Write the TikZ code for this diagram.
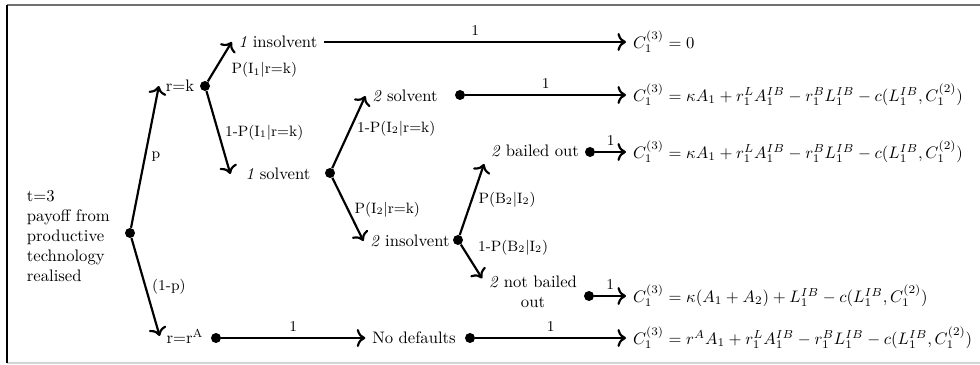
\documentclass[tikz,border=0pt]{standalone}
\usepackage{amsmath}
\usepackage{tikz}
\usetikzlibrary{
  arrows.meta,
  positioning
}
\definecolor{framegray}{RGB}{112,112,112}
\definecolor{lightframe}{RGB}{212,212,212}

\begin{document}
\begin{tikzpicture}[x=0.6pt, y=-0.6pt,
    state/.style={inner sep=4pt},
    dot/.style={circle, fill=black, inner sep=0pt, minimum size=6pt},
    branch/.style={line width=1.3pt, -{To[scale=1.15]}},
    prob/.style={font=\small}]
            \useasboundingbox (0,0) rectangle (980,365);

            % Frame edges
            \draw[line width=1.3pt, framegray] (7,5) -- (980,5);
            \draw[line width=1pt, lightframe] (7,363) -- (980,363);
            \draw[line width=1.2pt] (7,5) -- (7,363);

            % Root
            \node[align=left, anchor=west] (start) at (21,236) {t=3\\payoff from\\productive\\technology\\realised};
            \node[dot] (root) at (130,233) {};

            % Return states
            \node[state] (rk) at (180,86) {r=k};
            \node[dot] (rkdot) at (205,86) {};
            \node[state] (ra) at (185,336) {r=r\textsuperscript{A}};
            \node[dot] (radot) at (216,338) {};

            % Bank 1
            \node[state] (ins1) at (278,42) {\textit{1} insolvent};
            \node[state, inner xsep=9pt] (sol1) at (278,174) {\textit{1} solvent};
            \node[dot] (sol1dot) at (330,173) {};
            \node[state] (nodef) at (414,338) {No defaults};
            \node[dot] (nodefdot) at (470,338) {};

            % Bank 2
            \node[state] (sol2) at (405,96) {\textit{2} solvent};
            \node[dot] (sol2dot) at (460,95) {};
            \node[state] (ins2) at (410,241) {\textit{2} insolvent};
            \node[dot] (ins2dot) at (458,240) {};
            \node[state] (bail) at (535,151) {\textit{2} bailed out};
            \node[dot] (baildot) at (590,152) {};
            \node[state, align=center] (nbail) at (533,292) {\textit{2} not bailed\\out};
            \node[dot] (nbaildot) at (589,296) {};

            % Payoffs
            \node[state, anchor=west] (pay0) at (626,42) {$C_1^{(3)}=0$};
            \node[state, anchor=west] (pay1) at (626,95) {$C_1^{(3)}=\kappa A_1+r_1^L A_1^{IB}-r_1^B L_1^{IB}-c(L_1^{IB},C_1^{(2)})$};
            \node[state, anchor=west] (pay2) at (626,152) {$C_1^{(3)}=\kappa A_1+r_1^L A_1^{IB}-r_1^B L_1^{IB}-c(L_1^{IB},C_1^{(2)})$};
            \node[state, anchor=west] (pay3) at (626,296) {$C_1^{(3)}=\kappa(A_1+A_2)+L_1^{IB}-c(L_1^{IB},C_1^{(2)})$};
            \node[state, anchor=west] (pay4) at (626,338) {$C_1^{(3)}=r^A A_1+r_1^L A_1^{IB}-r_1^B L_1^{IB}-c(L_1^{IB},C_1^{(2)})$};

            % Arrows
            \draw[branch] (root) -- node[prob, right] {p} (rk.west);
            \draw[branch] (root) -- node[prob, right] {(1-p)} (ra.west);
            \draw[branch] (rkdot) -- node[prob, pos=0.3, right=6pt] {P(I\textsubscript{1}|r=k)} (ins1.west);
            \draw[branch] (rkdot) -- node[prob, right] {1-P(I\textsubscript{1}|r=k)} (sol1.west);
            \draw[branch] (sol1dot) -- node[prob, pos=0.55, right] {1-P(I\textsubscript{2}|r=k)} (sol2.west);
            \draw[branch] (sol1dot) -- node[prob, right] {P(I\textsubscript{2}|r=k)} (ins2.west);
            \draw[branch] (ins2dot) -- node[prob, right] {P(B\textsubscript{2}|I\textsubscript{2})} (bail.south west);
            \draw[branch] (ins2dot) -- node[prob, above right] {1-P(B\textsubscript{2}|I\textsubscript{2})} (nbail.165);
            \draw[branch] (radot) -- node[prob, above] {1} (nodef.west);
            \draw[branch] (ins1.east) -- node[prob, above] {1} (pay0.west);
            \draw[branch] (sol2dot) -- node[prob, above] {1} (pay1.west);
            \draw[branch] (baildot) -- node[prob, above] {1} (pay2.west);
            \draw[branch] (nbaildot) -- node[prob, above] {1} (pay3.west);
            \draw[branch] (nodefdot) -- node[prob, above] {1} (pay4.west);
        \end{tikzpicture}
\end{document}
